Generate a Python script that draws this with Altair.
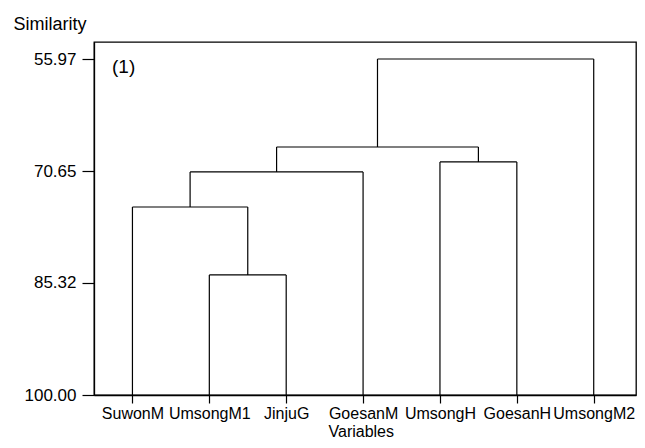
import altair as alt
import pandas as pd

# Leaves in dendrogram order
leaves = ["SuwonM", "UmsongM1", "JinjuG", "GoesanM", "UmsongH", "GoesanH", "UmsongM2"]

# Merge steps (cluster C1..C6 created in order)
merge_left = ["UmsongM1", "SuwonM", "C2", "UmsongH", "C3", "C5"]
merge_right = ["JinjuG", "C1", "GoesanM", "GoesanH", "C4", "UmsongM2"]
merge_similarity = [84.27, 75.36, 70.77, 69.46, 67.50, 55.97]

y_ticks = [55.97, 70.65, 85.32, 100.00]

# Build the dendrogram segments from the linkage
pos = {name: float(i) for i, name in enumerate(leaves)}
hgt = {name: 100.0 for name in leaves}
rows = []
for k, (l, r, s) in enumerate(zip(merge_left, merge_right, merge_similarity)):
    xl, xr = pos[l], pos[r]
    rows.append({"x": xl, "x2": xl, "y": hgt[l], "y2": s})
    rows.append({"x": xr, "x2": xr, "y": hgt[r], "y2": s})
    rows.append({"x": xl, "x2": xr, "y": s, "y2": s})
    c = f"C{k + 1}"
    pos[c] = (xl + xr) / 2
    hgt[c] = s
seg = pd.DataFrame(rows)

FONT = "Liberation Sans"
names_js = "[" + ",".join(f"'{n}'" for n in leaves) + "]"

x_scale = alt.Scale(domain=[-0.5, 6.55], nice=False, zero=False)
y_scale = alt.Scale(domain=[53.74, 100.0], reverse=True, nice=False, zero=False)

lines = alt.Chart(seg).mark_rule(color="black", strokeWidth=1.2).encode(
    x=alt.X("x:Q", scale=x_scale,
            axis=alt.Axis(values=list(range(len(leaves))),
                          labelExpr=f"{names_js}[datum.value]",
                          labelFontSize=16,
                          title="Variables", titleX=234, titleY=41,
                          titleAlign="left", titleBaseline="alphabetic",
                          titleFontWeight="normal", titleFontSize=16,
                          tickSize=8, labelPadding=2, grid=False)),
    x2="x2:Q",
    y=alt.Y("y:Q", scale=y_scale,
            axis=alt.Axis(values=y_ticks, format=".2f",
                          labelFontSize=17,
                          title="Similarity", titleAngle=0, titleX=-81, titleY=-13,
                          titleAlign="left", titleBaseline="alphabetic",
                          titleFontWeight="normal", titleFontSize=18,
                          tickSize=12, labelPadding=6, grid=False)),
    y2="y2:Q",
)

label = alt.Chart(pd.DataFrame({"t": ["(1)"]})).mark_text(
    font=FONT, fontSize=19, align="left", baseline="middle", color="black"
).encode(x=alt.value(18), y=alt.value(25), text="t:N")

chart = alt.layer(lines, label).properties(
    width=542, height=353,
    autosize=alt.AutoSizeParams(type="none"),
    padding={"left": 86, "top": 34, "right": 1, "bottom": 45},
).configure_view(
    stroke="black", strokeWidth=1.3
).configure_axis(
    domainColor="black", domainWidth=1.3, tickColor="black", tickWidth=1.2,
    labelFont=FONT, titleFont=FONT, labelColor="black",
    titleColor="black",
)

chart.save("out.html", embed_options={"renderer": "svg", "actions": False})
